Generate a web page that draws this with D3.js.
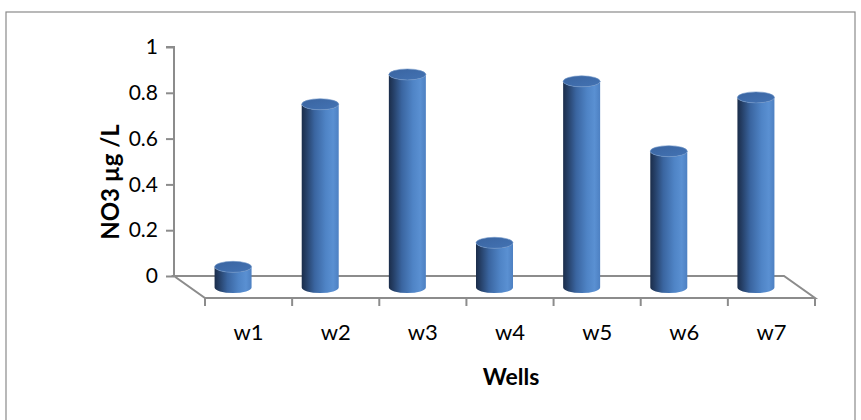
<!DOCTYPE html>
<html><head><meta charset="utf-8">
<script src="https://cdn.jsdelivr.net/npm/d3@7/dist/d3.min.js"></script>
<style>body{margin:0;background:#fff}svg{display:block}</style>
</head><body>
<svg id="c" width="861" height="420"></svg>
<script>
const categories = ["w1","w2","w3","w4","w5","w6","w7"];
const values = [0.04, 0.75, 0.88, 0.145, 0.85, 0.545, 0.78];
const yTicks = [0, 0.2, 0.4, 0.6, 0.8, 1];
const yTickLabels = ["0","0.2","0.4","0.6","0.8","1"];
const yTitle = "NO3 µg /L";
const xTitle = "Wells";

const svg = d3.select("#c");
const font = "Lato, 'Carlito', 'Open Sans', sans-serif";
const axisColor = "#8c8c8c";

// frame
svg.append("rect").attr("x",6).attr("y",12).attr("width",849).attr("height",420)
  .attr("fill","none").attr("stroke","#8a8a8a").attr("stroke-width",1.2);

const backY0 = 276, frontY0 = 298, depthX = 31, depthY = frontY0 - backY0;
const x = d3.scaleBand().domain(categories).range([205, 815]).paddingInner(0).paddingOuter(0);
const y = d3.scaleLinear().domain([0,1]).range([backY0, 47]);

// floor
const fx0 = x.range()[0], fx1 = x.range()[1];
svg.append("path")
  .attr("d", `M${fx0-depthX},${backY0}L${fx1-depthX},${backY0}L${fx1},${frontY0}L${fx0},${frontY0}Z`)
  .attr("fill","none").attr("stroke",axisColor).attr("stroke-width",2);

// y axis
const yAxis = d3.axisLeft(y).tickValues(yTicks).tickSize(8).tickPadding(8)
  .tickFormat((d,i)=>yTickLabels[i]);
const gy = svg.append("g").attr("transform",`translate(${fx0-depthX},0)`).call(yAxis);
gy.select(".domain").attr("stroke",axisColor).attr("stroke-width",2).attr("d",`M-8,${y(1)}H0V${y(0)}`);
gy.selectAll(".tick line").attr("stroke",axisColor).attr("stroke-width",2);
gy.selectAll(".tick text").attr("font-family",font).attr("font-size",21).attr("fill","#000");

// x axis category boundary ticks
const bounds = categories.map(c=>x(c)).concat([fx1]);
svg.append("g").selectAll("line").data(bounds).join("line")
  .attr("x1",d=>d).attr("x2",d=>d).attr("y1",frontY0).attr("y2",frontY0+8)
  .attr("stroke",axisColor).attr("stroke-width",2);
const xAxis = d3.axisBottom(x).tickSize(0).tickPadding(26);
const gx = svg.append("g").attr("transform",`translate(0,${frontY0})`).call(xAxis);
gx.select(".domain").remove();
gx.selectAll(".tick text").attr("font-family",font).attr("font-size",22).attr("fill","#000");

// titles
svg.append("text").attr("transform","translate(119,182) rotate(-90)")
  .attr("text-anchor","middle").attr("font-family",font).attr("font-weight","bold")
  .attr("font-size",24).text(yTitle);
svg.append("text").attr("x",511).attr("y",385).attr("text-anchor","middle")
  .attr("font-family",font).attr("font-weight","bold").attr("font-size",23).text(xTitle);

// gradients
const defs = svg.append("defs");
const g1 = defs.append("linearGradient").attr("id","body").attr("x1","0").attr("x2","1").attr("y1","0").attr("y2","0");
[[0,"#1b2d4a"],[0.12,"#253f66"],[0.35,"#3a65a0"],[0.65,"#4f84c6"],[0.85,"#5a90d2"],[1,"#4d80c2"]]
  .forEach(([o,c])=>g1.append("stop").attr("offset",o).attr("stop-color",c));
const g2 = defs.append("linearGradient").attr("id","top").attr("x1","0").attr("x2","1").attr("y1","0").attr("y2","1");
[[0,"#3a64a0"],[1,"#4373b4"]].forEach(([o,c])=>g2.append("stop").attr("offset",o).attr("stop-color",c));

// cylinders
const rx = 18.5, ry = 5.5;
const baseY = backY0 + depthY/2 + 0.5;
const cyl = svg.append("g").selectAll("g").data(values).join("g")
  .attr("transform",(d,i)=>`translate(${x(categories[i]) + x.bandwidth()/2 - depthX/2},0)`);
cyl.append("path")
  .attr("d", d => {
    const t = y(d);
    return `M${-rx},${t}L${-rx},${baseY}A${rx},${ry} 0 0 0 ${rx},${baseY}L${rx},${t}A${rx},${ry} 0 0 1 ${-rx},${t}Z`;
  })
  .attr("fill","url(#body)");
cyl.append("ellipse").attr("cx",0).attr("cy",d=>y(d)).attr("rx",rx).attr("ry",ry)
  .attr("fill","url(#top)").attr("stroke","#6f95c8").attr("stroke-width",0.6);
</script>
</body></html>
